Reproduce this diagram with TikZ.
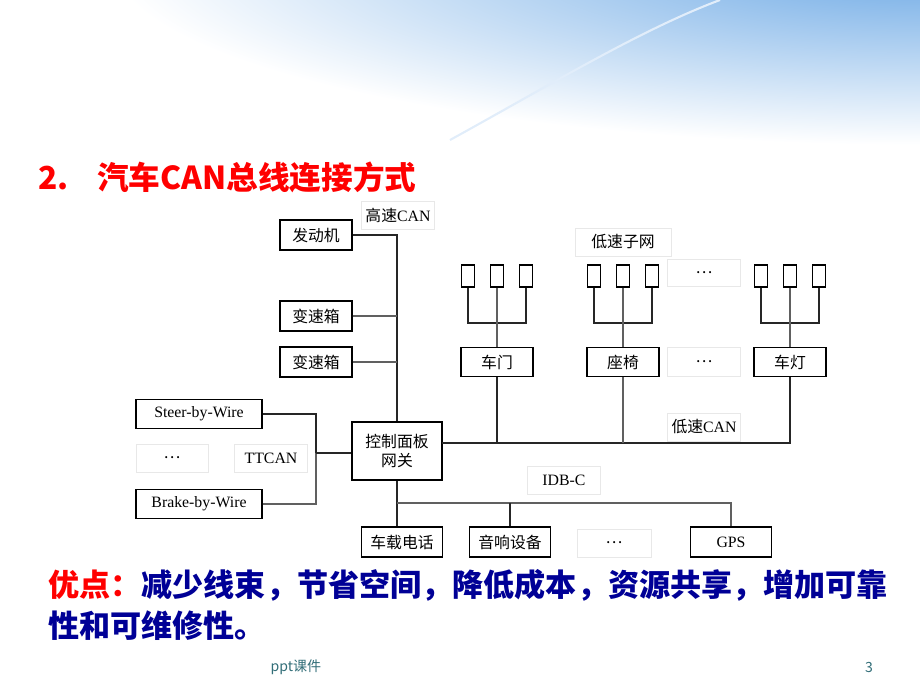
\documentclass[tikz,border=0pt]{standalone}
\usepackage{fontspec}
\usepackage{xcolor}
\setmainfont{Liberation Serif}
\newfontfamily\cjk{Noto Sans CJK SC}
\usepackage{tikz}
\usetikzlibrary{positioning,calc}
\definecolor{bannerblue}{RGB}{104,166,228}
\definecolor{textblue}{RGB}{0,0,150}
\definecolor{footgray}{RGB}{50,110,120}
\tikzset{%
	unit/.style    = {draw, rectangle, line width=0.6pt, minimum width=1.44cm, minimum height=0.6cm, inner sep=1pt, font=\cjk\fontsize{9}{11}\selectfont, text centered},
	wirebox/.style = {unit, minimum width=2.52cm, minimum height=0.58cm, font=\fontsize{9}{11}\selectfont},
	gatebox/.style = {unit, minimum width=1.8cm, minimum height=1.16cm, align=center},
	ecu/.style     = {draw, rectangle, line width=0.6pt, minimum width=0.26cm, minimum height=0.44cm, inner sep=0pt},
	tag/.style     = {draw=gray!18, rectangle, minimum width=1.46cm, minimum height=0.56cm, inner sep=1pt, font=\fontsize{9}{11}\selectfont},
	bus/.style     = {line width=0.6pt, black!85},
	stub/.style    = {line width=0.6pt, gray!75!black},
	merit/.style   = {anchor=west, inner sep=0pt, text=textblue, font=\cjk\bfseries\fontsize{17.7}{20}\selectfont},
}

\begin{document}
\begin{tikzpicture}[x=0.02cm, y=-0.02cm]
	\useasboundingbox (0,0) rectangle (920,690);
	% banner
	\begin{scope}
		\clip (0,0) rectangle (920,150);
		\shade[inner color=bannerblue, outer color=white] (930,-40) ellipse (820 and 185);
		\draw[white!80!bannerblue, line width=1.2pt] (450,140) .. controls (550,85) and (640,30) .. (720,0);
	\end{scope}
	\node[anchor=west, inner sep=0pt, text=red, font=\cjk\bfseries\fontsize{18}{20}\selectfont] (title) at (38,177) {2.\hspace{0.9em}汽车CAN总线连接方式};

	% high speed CAN
	\node[unit] (engine) at (316,235) {发动机};
	\node[unit] (gear1) at (316,316) {变速箱};
	\node[unit] (gear2) at (316,362) {变速箱};
	\node[tag] (hs) at (398,215) {{\cjk 高速}CAN};
	\node[gatebox] (gw) at (397,451) {控制面板\\网关};
	\draw[bus] (engine.east) -| (gw.north);
	\draw[stub] (gear1.east) -- (gear1.east -| gw.north);
	\draw[stub] (gear2.east) -- (gear2.east -| gw.north);

	% TTCAN
	\node[wirebox] (steer) at (199,414) {Steer-by-Wire};
	\node[wirebox] (brake) at (199,504) {Brake-by-Wire};
	\node[tag, minimum width=1.44cm] (dotsa) at (172,458) {{\cjk …}};
	\node[tag] (ttcan) at (271,458) {TTCAN};
	\coordinate (tt) at (316,453);
	\draw[bus] (steer.east) -| (tt);
	\draw[stub] (brake.east) -| (tt);
	\draw[bus] (tt) -- (tt -| gw.west);

	% low speed CAN and sub-networks
	\node[unit, minimum height=0.58cm] (door) at (497,362) {车门};
	\node[unit, minimum height=0.58cm] (seat) at (623,362) {座椅};
	\node[unit, minimum height=0.58cm] (lamp) at (790,362) {车灯};
	\node[tag, minimum height=0.58cm] (dotsb) at (704,362) {{\cjk …}};
	\node[tag, minimum height=0.54cm] (dotsc) at (704,273) {{\cjk …}};
	\node[tag, minimum width=1.92cm] (subnet) at (623,242) {{\cjk 低速子网}};
	\node[tag] (ls) at (704,427) {{\cjk 低速}CAN};
	\foreach \n/\x in {door/497, seat/623, lamp/790} {
		\foreach \d [count=\i] in {-29,0,29}
			\node[ecu] (\n\i) at (\x+\d,276) {};
		\coordinate (\n t) at (\x,323);
		\draw[bus] (\n1.south) |- (\n t) -| (\n3.south);
		\draw[stub] (\n2.south) -- (\n.north);
	}
	\coordinate (lsbus) at (442,443);
	\draw[bus] (lsbus) -| (lamp.south);
	\draw[bus] (door.south) -- (door.south |- lsbus);
	\draw[stub] (seat.south) -- (seat.south |- lsbus);

	% IDB-C
	\node[unit, minimum width=1.62cm] (phone) at (402,542) {车载电话};
	\node[unit, minimum width=1.62cm] (audio) at (510,542) {音响设备};
	\node[tag, minimum width=1.48cm] (dotsd) at (614,543) {{\cjk …}};
	\node[unit, minimum width=1.62cm, font=\fontsize{9}{11}\selectfont] (gps) at (731,542) {GPS};
	\node[tag] (idb) at (564,480) {IDB-C};
	\coordinate (idbbus) at (397,503);
	\draw[bus] (gw.south) -- (gw.south |- phone.north);
	\draw[stub] (idbbus) -| (gps.north);
	\draw[bus] (audio.north) -- (audio.north |- idbbus);

	% merits
	\node[merit] (merit1) at (48,585) {\textcolor{red}{优点：}减少线束，节省空间，降低成本，资源共享，增加可靠};
	\node[merit] (merit2) at (48,626) {性和可维修性。};

	% footer
	\node[text=footgray, font=\cjk\fontsize{8}{10}\selectfont] (foot) at (296,667) {ppt课件};
	\node[text=footgray, font=\cjk\fontsize{8}{10}\selectfont] (page) at (869,667) {3};
\end{tikzpicture}
\end{document}
